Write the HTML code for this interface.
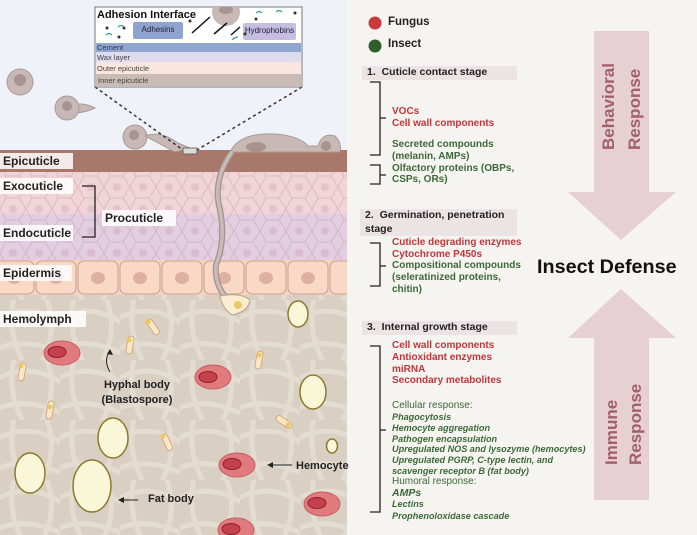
<!DOCTYPE html>
<html><head><meta charset="utf-8"><style>
body{margin:0;width:697px;height:535px;overflow:hidden;background:#f6f4f1;font-family:"Liberation Sans",sans-serif;position:relative}
.t{position:absolute;white-space:nowrap;font-size:10px;line-height:11.8px;font-weight:bold}
.r{color:#c0363c}.g{color:#3b6a37}.i{font-style:italic;font-size:9.1px}
.n{font-weight:normal}
.hd{position:absolute;background:#ece3e5;font-size:10.5px;font-weight:bold;color:#222;padding-left:5px;line-height:13.5px;white-space:nowrap}
.lb{position:absolute;background:rgba(255,255,255,.85);font-weight:bold;font-size:12px;color:#222;padding:0 3px;line-height:16px;white-space:nowrap}
</style></head><body>
<svg width="697" height="535" style="position:absolute;left:0;top:0">
<defs>
<pattern id="hex" width="26" height="22" patternUnits="userSpaceOnUse">
<path d="M0 11 L6 0 L19 0 L26 11 L19 22 L6 22 Z" fill="none" stroke="rgba(160,110,120,.25)" stroke-width="1"/>
<circle cx="13" cy="11" r="4" fill="rgba(180,120,140,.2)"/>
</pattern>
<pattern id="fib" width="60" height="60" patternUnits="userSpaceOnUse">
<path d="M-5 20 Q30 0 65 25 M-5 50 Q25 35 65 55 M15 -5 Q5 30 25 65 M45 -5 Q60 30 40 65" fill="none" stroke="rgba(240,235,225,.45)" stroke-width="5"/>
</pattern>
<clipPath id="lp"><rect x="0" y="0" width="347" height="535"/></clipPath>
</defs>
<g clip-path="url(#lp)">
<rect x="0" y="0" width="347" height="152" fill="#eff3f9"/>
<rect x="0" y="150" width="347" height="22" fill="#a8796a"/>
<rect x="0" y="172" width="347" height="44" fill="#f0d4d8"/>
<rect x="0" y="214" width="347" height="46" fill="#e3cde0"/>
<rect x="0" y="172" width="347" height="88" fill="url(#hex)"/>
<rect x="0" y="260" width="347" height="35" fill="#f7d3c0"/>
<g fill="#f9d8c6" stroke="#c9a090" stroke-width="1">
<rect x="-6" y="261" width="40" height="33" rx="6"/><rect x="36" y="261" width="40" height="33" rx="6"/><rect x="78" y="261" width="40" height="33" rx="6"/><rect x="120" y="261" width="40" height="33" rx="6"/><rect x="162" y="261" width="40" height="33" rx="6"/><rect x="204" y="261" width="40" height="33" rx="6"/><rect x="246" y="261" width="40" height="33" rx="6"/><rect x="288" y="261" width="40" height="33" rx="6"/><rect x="330" y="261" width="40" height="33" rx="6"/>
</g>
<g fill="#deb0a2"><ellipse cx="14" cy="278" rx="7" ry="6"/><ellipse cx="56" cy="278" rx="7" ry="6"/><ellipse cx="98" cy="278" rx="7" ry="6"/><ellipse cx="140" cy="278" rx="7" ry="6"/><ellipse cx="182" cy="278" rx="7" ry="6"/><ellipse cx="224" cy="278" rx="7" ry="6"/><ellipse cx="266" cy="278" rx="7" ry="6"/><ellipse cx="308" cy="278" rx="7" ry="6"/></g>
<rect x="0" y="295" width="347" height="240" fill="#d9cfc2"/>
<rect x="0" y="295" width="347" height="240" fill="url(#fib)"/>
</g>
<g fill="#c9b9b6" stroke="#a99a96"><circle cx="20" cy="82" r="13"/><path d="M66 108 Q80 100 95 108 Q80 115 66 112Z"/><circle cx="67" cy="108" r="12"/><circle cx="135" cy="137" r="12"/>
<path d="M145 136 Q160 130 178 143 L190 148 L175 152Z"/>
<path d="M230 152 Q240 132 275 134 Q300 136 308 146 L318 146 Q322 132 335 136 Q342 142 340 152Z"/></g>
<g fill="#a8938f"><circle cx="20" cy="80" r="6"/><circle cx="67" cy="106" r="5"/><circle cx="134" cy="135" r="5"/><ellipse cx="256" cy="147" rx="10" ry="5"/><ellipse cx="326" cy="146" rx="5" ry="5"/></g>
<path d="M232 152 Q212 180 220 210 Q226 240 216 265 Q214 285 228 300" fill="none" stroke="#a3938f" stroke-width="6"/>
<path d="M232 152 Q212 180 220 210 Q226 240 216 265 Q214 285 228 300" fill="none" stroke="#c9bbb7" stroke-width="3.5"/>
<path d="M220 296 Q240 292 250 300 Q248 312 232 315 Q222 308 220 296Z" fill="#fbedd2" stroke="#b8a58a"/>
<circle cx="238" cy="305" r="4" fill="#ecc860"/>
<path d="M95 87 L183 150 M302 87 L197 150" stroke="#333" stroke-width="1.5" stroke-dasharray="3,3"/>
<rect x="183" y="148" width="14" height="6" fill="#dcdad4" stroke="#555" stroke-width=".8"/>
<rect x="95" y="7" width="207" height="80" fill="#fff" stroke="#777"/>
<clipPath id="cb"><rect x="95" y="7" width="207" height="80"/></clipPath>
<circle cx="226" cy="12" r="14" fill="#c9b9b6" clip-path="url(#cb)"/><ellipse cx="226" cy="10" rx="7" ry="4" fill="#a8938f" clip-path="url(#cb)"/>
<rect x="96" y="43" width="205" height="9" fill="#8fa6d0"/>
<rect x="96" y="52" width="205" height="10" fill="#dfdcef"/>
<rect x="96" y="62" width="205" height="12" fill="#fbe6df"/>
<rect x="96" y="74" width="205" height="12" fill="#cbbbb6"/>
<rect x="133" y="22" width="50" height="17" rx="2" fill="#8fa3cf"/>
<rect x="243" y="23" width="53" height="17" rx="2" fill="#c6bde3"/>
<g stroke="#111" stroke-width="1.5"><path d="M210 17 L192 33"/><path d="M227 23 L214 34"/><path d="M240 27 L231 35"/></g>
<g fill="#333"><circle cx="107" cy="28" r="1.5"/><circle cx="119" cy="37" r="1.5"/><circle cx="124" cy="28" r="1.5"/><circle cx="295" cy="13" r="1.5"/><circle cx="256" cy="19" r="1.5"/><circle cx="245" cy="34" r="1.5"/><circle cx="190" cy="21" r="1.5"/></g>
<g stroke="#3a9a9a" fill="none" stroke-width="1.2"><path d="M106 35 q3 -3 6 0"/><path d="M118 27 q3 -3 6 0"/><path d="M256 13 q3 -3 6 0"/><path d="M276 12 q3 -3 6 0"/><path d="M232 40 q3 -3 6 -3"/></g>
<g fill="#faf6d8" stroke="#8c7a2c" stroke-width="1.5">
<ellipse cx="298" cy="314" rx="10" ry="13"/><ellipse cx="313" cy="392" rx="13" ry="17"/><ellipse cx="113" cy="438" rx="15" ry="20"/><ellipse cx="30" cy="473" rx="15" ry="20"/><ellipse cx="92" cy="486" rx="19" ry="26"/><ellipse cx="332" cy="446" rx="5.5" ry="7"/></g>
<g fill="#e17a7d" stroke="#c55c64"><ellipse cx="62" cy="353" rx="18" ry="12"/><ellipse cx="213" cy="377" rx="18" ry="12"/><ellipse cx="237" cy="465" rx="18" ry="12"/><ellipse cx="322" cy="504" rx="18" ry="12"/><ellipse cx="236" cy="530" rx="18" ry="12"/></g>
<g fill="#c4404c" stroke="#8c2030"><ellipse cx="57" cy="352" rx="9" ry="5.5"/><ellipse cx="208" cy="377" rx="9" ry="5.5"/><ellipse cx="232" cy="464" rx="9" ry="5.5"/><ellipse cx="317" cy="503" rx="9" ry="5.5"/><ellipse cx="231" cy="529" rx="9" ry="5.5"/></g>
<g fill="#fbe7c8" stroke="#c9a070" stroke-width=".8">
<rect x="-3" y="-9" width="6" height="18" rx="3" transform="translate(153,327) rotate(-35)"/>
<rect x="-3" y="-9" width="6" height="18" rx="3" transform="translate(130,345) rotate(10)"/>
<rect x="-3" y="-9" width="6" height="18" rx="3" transform="translate(22,372) rotate(10)"/>
<rect x="-3" y="-9" width="6" height="18" rx="3" transform="translate(50,410) rotate(10)"/>
<rect x="-3" y="-9" width="6" height="18" rx="3" transform="translate(167,442) rotate(-25)"/>
<rect x="-3" y="-9" width="6" height="18" rx="3" transform="translate(259,360) rotate(10)"/>
<rect x="-3" y="-9" width="6" height="18" rx="3" transform="translate(284,422) rotate(-55)"/>
</g>
<g fill="#ecc860"><circle cx="148" cy="322" r="2.5"/><circle cx="129" cy="340" r="2.5"/><circle cx="21" cy="366" r="2.5"/><circle cx="50" cy="407" r="2.5"/><circle cx="163" cy="436" r="2.5"/><circle cx="259" cy="355" r="2.5"/><circle cx="288" cy="425" r="2.5"/></g>
<path d="M110 372 Q103 360 110 351" fill="none" stroke="#222"/><path d="M107 354 L110 349 L113 355Z" fill="#222"/>
<path d="M138 500 L120 500" stroke="#222"/><path d="M118 500 L124 497 L124 503Z" fill="#222"/>
<path d="M292 465 L270 465" stroke="#222"/><path d="M267 465 L273 462 L273 468Z" fill="#222"/>
<path d="M82 186 L95 186 L95 237 L82 237" fill="none" stroke="#222" stroke-width="1.3"/>
<g fill="#e6d0d3"><path d="M594 31 L649 31 L649 192 L676 192 L621 240 L568 192 L594 192Z"/>
<path d="M621 289 L676 338 L649 338 L649 500 L594 500 L594 338 L568 338Z"/></g>
<circle cx="375" cy="23" r="6.5" fill="#c93a3d"/>
<circle cx="375" cy="46" r="6.5" fill="#2f5e2d"/>
<g fill="none" stroke="#222" stroke-width="1.3">
<path d="M370 82 L380 82 L380 155 L370 155 M380 118 L386 118"/>
<path d="M370 165 L380 165 L380 184 L370 184 M380 175 L386 175"/>
<path d="M370 243 L380 243 L380 286 L370 286 M380 266 L386 266"/>
<path d="M370 346 L380 346 L380 512 L370 512 M380 430 L386 430"/>
</g>
<text font-family="Liberation Sans" font-weight="bold" font-size="17" fill="#a3606b" transform="translate(614,150) rotate(-90)">Behavioral</text>
<text font-family="Liberation Sans" font-weight="bold" font-size="17" fill="#a3606b" transform="translate(640,150) rotate(-90)">Response</text>
<text font-family="Liberation Sans" font-weight="bold" font-size="17" fill="#a3606b" transform="translate(617,465) rotate(-90)">Immune</text>
<text font-family="Liberation Sans" font-weight="bold" font-size="17" fill="#a3606b" transform="translate(641,465) rotate(-90)">Response</text>
</svg>
<div style="position:absolute;left:97px;top:9px;font-weight:bold;font-size:11px;color:#111">Adhesion Interface</div>
<div style="position:absolute;left:133px;top:25px;width:50px;text-align:center;font-size:8px;color:#223">Adhesins</div>
<div style="position:absolute;left:243px;top:26px;width:53px;text-align:center;font-size:8px;color:#223">Hydrophobins</div>
<div style="position:absolute;left:97px;top:43px;font-size:7.5px;color:#334;line-height:9px">Cement</div>
<div style="position:absolute;left:97px;top:53px;font-size:7.5px;color:#444;line-height:9px">Wax layer</div>
<div style="position:absolute;left:97px;top:64px;font-size:7.5px;color:#444;line-height:9px">Outer epicuticle</div>
<div style="position:absolute;left:98px;top:76px;font-size:7.5px;color:#444;line-height:9px">Inner epicuticle</div>
<div class="lb" style="left:0;top:153px;width:67px">Epicuticle</div>
<div class="lb" style="left:0;top:178px;width:67px">Exocuticle</div>
<div class="lb" style="left:0;top:225px;width:67px">Endocuticle</div>
<div class="lb" style="left:102px;top:210px;width:68px">Procuticle</div>
<div class="lb" style="left:0;top:265px;width:66px">Epidermis</div>
<div class="lb" style="left:0;top:311px;width:80px">Hemolymph</div>
<div style="position:absolute;left:92px;top:378px;width:90px;text-align:center;font-weight:bold;font-size:11px;line-height:15px;color:#222">Hyphal body<br>(Blastospore)</div>
<div style="position:absolute;left:148px;top:493px;font-weight:bold;font-size:11px;color:#222">Fat body</div>
<div style="position:absolute;left:296px;top:460px;font-weight:bold;font-size:11px;color:#222">Hemocyte</div>
<div class="t" style="left:388px;top:17px;font-size:11.5px;color:#222">Fungus</div>
<div class="t" style="left:388px;top:39px;font-size:11.5px;color:#222">Insect</div>
<div class="hd" style="left:362px;top:66px;width:150px">1.&nbsp; Cuticle contact stage</div>
<div class="t r" style="left:392px;top:106px">VOCs<br>Cell wall components</div>
<div class="t g" style="left:392px;top:139px">Secreted compounds<br>(melanin, AMPs)<br>Olfactory proteins (OBPs,<br>CSPs, ORs)</div>
<div class="hd" style="left:360px;top:209px;width:152px">2.&nbsp; Germination, penetration<br>stage</div>
<div class="t r" style="left:392px;top:237px">Cuticle degrading enzymes<br>Cytochrome P450s</div>
<div class="t g" style="left:392px;top:260px">Compositional compounds<br>(seleratinized proteins,<br>chitin)</div>
<div style="position:absolute;left:537px;top:256px;font-weight:bold;font-size:19.8px;color:#111;white-space:nowrap">Insect Defense</div>
<div class="hd" style="left:362px;top:321px;width:150px">3.&nbsp; Internal growth stage</div>
<div class="t r" style="left:392px;top:340px">Cell wall components<br>Antioxidant enzymes<br>miRNA<br>Secondary metabolites</div>
<div class="t g n" style="left:392px;top:400px">Cellular response:</div>
<div class="t g i" style="left:392px;top:412px;line-height:10.8px">Phagocytosis<br>Hemocyte aggregation<br>Pathogen encapsulation<br>Upregulated NOS and lysozyme (hemocytes)<br>Upregulated PGRP, C-type lectin, and<br>scavenger receptor B (fat body)</div>
<div class="t g n" style="left:392px;top:476px">Humoral response:</div>
<div class="t g i" style="left:392px;top:488px;line-height:11.3px"><span style="font-size:10.5px">AMPs</span><br>Lectins<br>Prophenoloxidase cascade</div>
</body></html>
